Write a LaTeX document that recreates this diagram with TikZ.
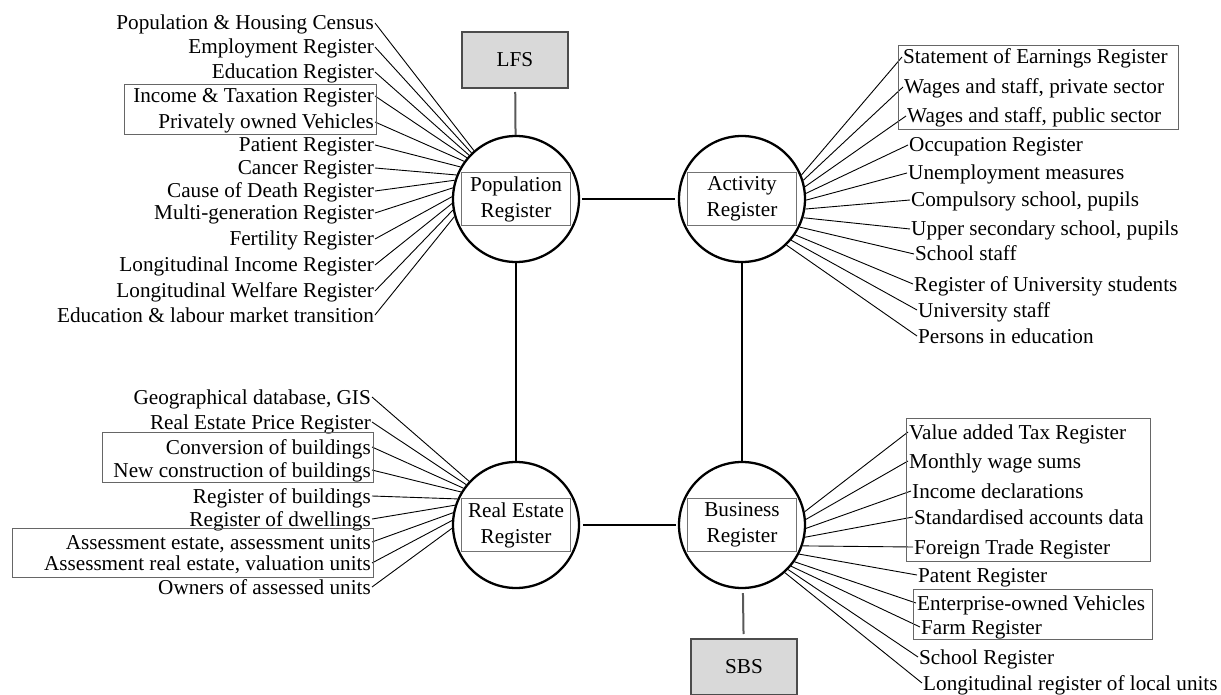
\documentclass[tikz,border=0pt]{standalone}
\usepackage{fontspec}
\setmainfont{Liberation Serif}
\usetikzlibrary{shapes}
\tikzstyle{register}=[circle,draw=black,line width=2.3pt,minimum size=126pt,inner sep=0pt]
\tikzstyle{regname}=[draw=black!55,line width=1pt,minimum width=109pt,minimum height=53pt,align=center,inner sep=0pt,font=\fontsize{21.2}{26}\selectfont]
\tikzstyle{survey}=[draw=black!70,fill=black!15,line width=2pt,minimum width=106pt,minimum height=56pt,font=\fontsize{21.2}{24}\selectfont]
\tikzstyle{leftitem}=[anchor=east,inner sep=1pt,text height=15pt,text depth=1pt,font=\fontsize{21.2}{24}\selectfont]
\tikzstyle{rightitem}=[anchor=west,inner sep=1pt,text height=15pt,text depth=1pt,font=\fontsize{21.2}{24}\selectfont]
\tikzstyle{spoke}=[draw,line width=0.9pt]
\tikzstyle{link}=[draw,line width=2.5pt]
\tikzstyle{feed}=[draw,black!65,line width=2pt]
\tikzstyle{groupbox}=[draw=black!60,line width=1pt]

\begin{document}
\begin{tikzpicture}[x=1pt,y=-1pt]
    \useasboundingbox (0,0) rectangle (1221,695);
    % First we draw the four registers
    \foreach \pos/\name/\txt in {{(516,199)/pop/Population\\Register}, {(742,199)/act/Activity\\Register},
                                 {(516,525)/re/Real Estate\\Register}, {(742,525)/bus/Business\\Register}}
    {
        \node[register] (\name) at \pos {};
        \node[regname] (\name name) at \pos {\txt};
    }
    \node[survey] (lfs) at (515,60) {LFS};
    \node[survey] (sbs) at (744,667) {SBS};
    % Links between the registers
    \path[link,shorten <=2pt,shorten >=3pt] (pop) -- (act);
    \path[link,shorten <=3pt,shorten >=2pt] (re) -- (bus);
    \path[link] (pop) -- (re);
    \path[link] (act) -- (bus);
    \path[feed,shorten <=3pt] (lfs) -- (pop);
    \path[feed,shorten <=4pt,shorten >=4pt] (bus) -- (sbs);
    % Sources of the Population Register
    \foreach \y/\txt/\ang [count=\i] in {23/Population \& Housing Census/131, 47/Employment Register/134,
        72/Education Register/137, 96/Income \& Taxation Register/140, 122/Privately owned Vehicles/144,
        145/Patient Register/150, 168/Cancer Register/158, 191/Cause of Death Register/163,
        213/Multi-generation Register/170, 239/Fertility Register/178, 265/Longitudinal Income Register/184,
        291/Longitudinal Welfare Register/190, 315/Education \& labour market transition/196}
    {
        \node[leftitem] (pl\i) at (375,\y) {\txt};
        \path[spoke] (pl\i.east) -- (pop.\ang);
    }
    % Sources of the Activity Register
    \foreach \x/\y/\txt/\ang [count=\i] in {902/57/Statement of Earnings Register/22,
        903/87/{Wages and staff, private sector}/17, 906/116/{Wages and staff, public sector}/11,
        908/145/Occupation Register/5, 907/173/Unemployment measures/-1,
        910/200/{Compulsory school, pupils}/-9, 910/229/{Upper secondary school, pupils}/-17,
        914/254/School staff/-26, 913/284/Register of University students/-34,
        917/310/University staff/-40, 917/336/Persons in education/-46}
    {
        \node[rightitem] (al\i) at (\x,\y) {\txt};
        \path[spoke] (al\i.west) -- (act.\ang);
    }
    % Sources of the Real Estate Register
    \foreach \y/\txt/\ang [count=\i] in {397/{Geographical database, GIS}/137, 422/Real Estate Price Register/141,
        447/Conversion of buildings/145, 470/New construction of buildings/149,
        496/Register of buildings/156, 519/Register of dwellings/162,
        542/{Assessment estate, assessment units}/169, 563/{Assessment real estate, valuation units}/176,
        587/Owners of assessed units/183}
    {
        \node[leftitem] (rl\i) at (372,\y) {\txt};
        \path[spoke] (rl\i.east) -- (re.\ang);
    }
    % Sources of the Business Register
    \foreach \x/\y/\txt/\ang [count=\i] in {908/432/Value added Tax Register/12, 908/461/Monthly wage sums/5,
        911/491/Income declarations/-3, 913/517/Standardised accounts data/-11,
        913/547/Foreign Trade Register/-19, 917/575/Patent Register/-27,
        916/603/Enterprise-owned Vehicles/-35, 920/627/Farm Register/-40,
        918/657/School Register/-44, 922/683/Longitudinal register of local units/-48}
    {
        \node[rightitem] (bl\i) at (\x,\y) {\txt};
        \path[spoke] (bl\i.west) -- (bus.\ang);
    }
    % Frames round grouped sources
    \draw[groupbox] (124,85) rectangle (376,135);
    \draw[groupbox] (898,46) rectangle (1178,130);
    \draw[groupbox] (102,432) rectangle (373,482);
    \draw[groupbox] (12,528) rectangle (373,577);
    \draw[groupbox] (906,418) rectangle (1150,561);
    \draw[groupbox] (913,589) rectangle (1152,639);
\end{tikzpicture}
\end{document}
